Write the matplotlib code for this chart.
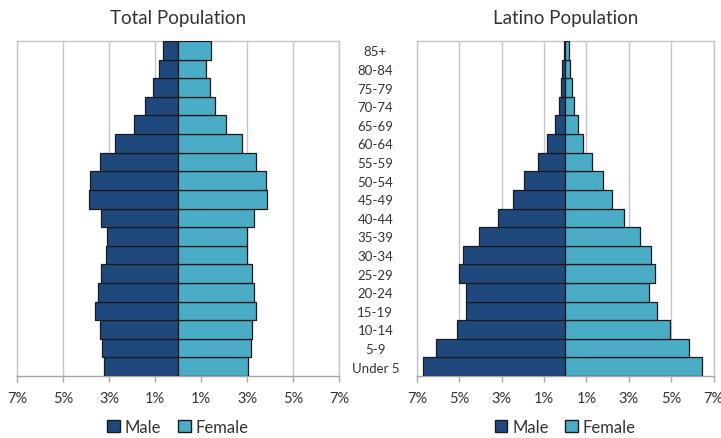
import matplotlib
matplotlib.use("Agg")
import matplotlib.pyplot as plt
from matplotlib.patches import Patch

plt.rcParams['font.family'] = ['Lato', 'DejaVu Sans']

# age groups, youngest first (bottom of the pyramid)
ages = ["Under 5", "5-9", "10-14", "15-19", "20-24", "25-29", "30-34", "35-39",
        "40-44", "45-49", "50-54", "55-59", "60-64", "65-69", "70-74", "75-79",
        "80-84", "85+"]

# percent of population
total_male = [3.22, 3.30, 3.38, 3.59, 3.46, 3.33, 3.14, 3.07,
              3.36, 3.86, 3.84, 3.39, 2.74, 1.91, 1.42, 1.10, 0.83, 0.65]
total_female = [3.06, 3.17, 3.22, 3.41, 3.32, 3.22, 3.01, 3.00,
                3.32, 3.86, 3.83, 3.39, 2.78, 2.07, 1.62, 1.39, 1.22, 1.42]

latino_male = [6.71, 6.09, 5.11, 4.69, 4.69, 5.02, 4.84, 4.06,
               3.18, 2.47, 1.95, 1.31, 0.88, 0.49, 0.30, 0.22, 0.13, 0.08]
latino_female = [6.45, 5.83, 4.94, 4.32, 3.96, 4.26, 4.06, 3.55,
                 2.78, 2.20, 1.76, 1.24, 0.83, 0.58, 0.41, 0.31, 0.22, 0.17]

xticks = [-7, -5, -3, -1, 1, 3, 5, 7]
xticklabels = ["7%", "5%", "3%", "1%", "1%", "3%", "5%", "7%"]

male_color = "#1F497D"
female_color = "#4BACC6"
edge = "#1a1a1a"
grid_color = "#c6c6c6"
axis_color = "#a6a6a6"

W, H = 721, 439
fig = plt.figure(figsize=(W / 100, H / 100), dpi=100)

ax1 = fig.add_axes([17 / W, 62 / H, 322 / W, 335 / H])
ax2 = fig.add_axes([417 / W, 62 / H, 296.5 / W, 335 / H])


def pyramid(ax, male, female, title):
    y = list(range(len(ages)))
    ax.barh(y, [-m for m in male], height=1.0, color=male_color,
            edgecolor=edge, linewidth=0.9, zorder=3)
    ax.barh(y, female, height=1.0, color=female_color,
            edgecolor=edge, linewidth=0.9, zorder=3)
    ax.set_xlim(-7, 7)
    ax.set_ylim(-0.5, len(ages) - 0.5)
    ax.set_xticks(xticks)
    ax.set_xticklabels(xticklabels, fontsize=10.5, color="#333333")
    ax.tick_params(axis="x", direction="out", length=4, width=1,
                   color=axis_color, pad=7)
    ax.grid(axis="x", color=grid_color, linewidth=1, zorder=0)
    for s in ax.spines.values():
        s.set_color(grid_color)
        s.set_linewidth(1)
    ax.spines["bottom"].set_color(axis_color)
    ax.set_title(title, fontsize=13.5, color="#333333", pad=13)
    ax.legend(handles=[Patch(facecolor=male_color, edgecolor=edge, label="Male"),
                       Patch(facecolor=female_color, edgecolor=edge, label="Female")],
              loc="center", bbox_to_anchor=(0.5, -0.152), ncol=2,
              frameon=False, fontsize=12, handlelength=0.75, handleheight=0.75,
              handletextpad=0.3, columnspacing=1.0, labelcolor="#333333",
              borderpad=0.2)
    return y


pyramid(ax1, total_male, total_female, "Total Population")
ax1.set_yticks([])

y = pyramid(ax2, latino_male, latino_female, "Latino Population")
ax2.set_yticks(y)
ax2.set_yticklabels(ages, fontsize=9.5, color="#333333", ha="center")
ax2.tick_params(axis="y", length=0, pad=30)

fig.savefig("out.png", dpi=100)
